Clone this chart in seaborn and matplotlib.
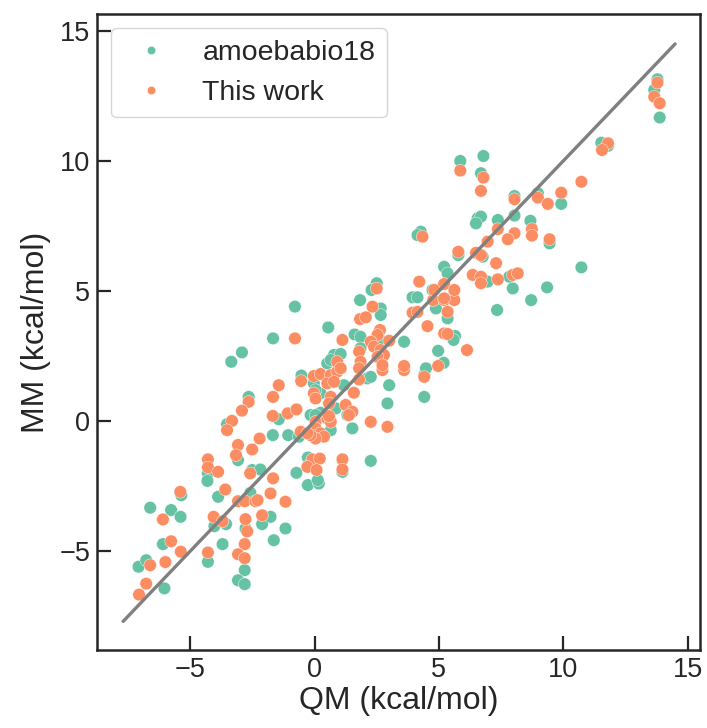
import matplotlib
matplotlib.use("Agg")
import matplotlib.pyplot as plt
import seaborn as sns
import pandas as pd

# ---- data (kcal/mol) ----
amoeba_qm = [-7.08, -6.77, -6.04, -6.10, -6.61, -5.77, -5.39, -5.36, -4.29, -4.31,
             -4.29, -4.03, -3.56, -3.88, -3.70, -3.52, -3.08, -2.51, -2.58, -2.78,
             -2.81, -3.08, -2.81, -1.64, -2.11, -1.77, -1.17, -1.68, -1.06, -1.44,
             -2.65, -2.92, -3.35, -1.67, -0.79, -0.53, -0.63, -2.18, -0.73, -0.27,
             -0.16, -0.27, 0.17, 0.13, 1.12, 2.26, -0.03, 0.71, 1.18, 0.24,
             0.85, 1.32, 2.12, 2.26, 3.00, 2.93, 1.52, -0.16, 0.24, 0.65,
             4.41, 4.41, 0.04, 0.04, 0.55, 2.50, 2.29, 1.83, 2.66, 2.66,
             1.61, 1.85, 2.63, 3.60, 1.85, 0.78, 1.05, 0.51, 0.65, 4.48,
             4.74, 3.94, 4.14, 4.88, 5.35, 5.65, 5.59, 7.34, 8.71, 4.97,
             5.19, 5.86, 6.79, 6.69, 8.04, 8.98, 9.92, 6.56, 6.69, 6.49,
             7.37, 8.04, 8.68, 9.45, 4.27, 4.14, 5.78, 6.76, 5.21, 5.35,
             6.96, 7.83, 7.97, 9.35, 13.79, 13.66, 13.88, 11.53, 11.80, 10.73]
amoeba_mm = [-5.60, -5.35, -6.43, -4.73, -3.33, -3.42, -3.68, -2.85, -2.01, -2.30,
             -5.41, -4.04, -3.96, -2.91, -4.73, -0.12, -1.50, -1.88, -2.76, -4.13,
             -5.73, -6.12, -6.27, -4.58, -3.96, -3.68, -4.13, -0.54, -0.54, 0.07,
             0.93, 2.64, 2.28, 3.18, 4.40, 1.75, -0.60, -1.86, -1.99, -1.40,
             -1.63, -2.46, -2.40, -2.27, -1.95, -1.53, 1.45, 1.64, 1.38, 1.07,
             0.49, 0.23, 1.64, 1.70, 1.38, 0.68, -0.28, 0.23, 0.32, -0.35,
             1.77, 0.93, 1.19, 0.23, 3.60, 5.30, 5.04, 4.65, 4.33, 4.08,
             3.33, 3.24, 3.12, 3.05, 2.80, 2.54, 2.58, 2.22, 2.35, 2.03,
             5.04, 4.76, 4.76, 4.33, 3.95, 3.27, 3.12, 4.27, 4.65, 2.70,
             2.24, 10.00, 10.19, 9.53, 8.65, 8.76, 8.35, 7.80, 7.86, 7.60,
             7.73, 7.90, 7.70, 6.83, 7.28, 7.15, 6.38, 6.32, 5.93, 5.68,
             5.36, 5.55, 5.10, 5.14, 13.14, 12.73, 11.67, 10.70, 10.58, 5.91]

thiswork_qm = [-6.61, -6.77, -7.06, -6.00, -5.77, -5.38, -6.10, -5.40, -4.29, -4.29,
               -4.29, -4.06, -3.70, -3.88, -3.59, -3.32, -3.52, -3.08, -3.16, -2.51,
               -2.59, -3.08, -2.81, -2.38, -2.78, -2.71, -2.81, -3.08, -2.81, -2.29,
               -2.11, -1.77, -1.17, -1.67, -2.21, -1.68, -1.44, -1.67, -2.65, -2.92,
               -0.79, -0.54, -1.08, -0.73, -0.56, -0.09, 0.21, -0.29, 0.08, 1.12,
               1.12, -0.03, 0.24, 0.65, 0.91, 0.51, 0.78, -0.03, 0.04, 0.65,
               0.58, 1.25, 1.52, 1.58, 1.79, 2.26, 2.93, 0.04, 0.04, 0.24,
               0.38, 0.04, -0.16, -0.29, 0.51, 0.65, 2.73, 3.60, 4.41, 1.38,
               0.58, 4.34, 2.50, 2.33, 1.83, 2.06, 2.63, 2.53, 1.12, 2.26,
               2.39, 2.66, 2.79, 2.53, 2.73, 3.00, 1.79, 1.85, 0.91, 1.05,
               1.79, 3.60, 4.21, 3.94, 4.14, 4.77, 5.21, 5.62, 5.35, 4.54,
               5.21, 5.35, 6.13, 4.97, 5.86, 6.79, 6.69, 8.04, 8.98, 9.38,
               9.92, 7.37, 8.74, 8.74, 8.04, 7.77, 9.45, 6.96, 5.78, 6.49,
               6.69, 7.30, 6.36, 6.69, 6.69, 7.37, 7.97, 8.17, 5.21, 4.81,
               5.21, 5.62, 13.79, 13.66, 13.88, 11.80, 11.56, 10.73]
thiswork_mm = [-5.54, -6.25, -6.67, -5.42, -4.62, -5.02, -3.78, -2.72, -1.47, -1.78,
               -5.05, -3.68, -3.85, -1.95, -2.63, 0.01, -0.35, -0.92, -1.31, -1.09,
               -2.01, -3.08, -3.08, -3.08, -3.77, -4.24, -4.73, -5.12, -5.27, -3.04,
               -3.62, -2.78, -3.10, -2.20, -0.67, 0.20, 1.38, 0.93, 0.74, 0.40,
               3.18, 1.54, 0.30, 0.45, -0.41, -1.47, -1.44, -1.76, -1.88, -1.47,
               -1.86, 1.73, 1.81, 1.77, 1.90, 1.45, 1.51, 1.07, 0.87, 0.93,
               0.68, 0.62, 0.36, 1.09, 1.60, -0.03, -0.22, -0.03, -0.28, -0.47,
               -0.60, -0.67, -0.54, -0.47, 0.10, -0.03, 1.96, 1.96, 1.70, 0.23,
               0.19, 7.09, 5.10, 4.40, 3.92, 3.99, 3.50, 3.31, 3.12, 3.05,
               2.86, 2.73, 2.54, 2.47, 2.15, 3.09, 2.67, 2.28, 2.28, 2.03,
               2.03, 2.12, 5.36, 4.17, 4.20, 4.65, 4.65, 4.65, 4.20, 3.65,
               3.37, 3.35, 2.73, 2.12, 9.63, 9.36, 8.85, 8.53, 8.59, 8.35,
               8.78, 7.38, 7.38, 7.13, 7.22, 6.99, 6.99, 6.90, 6.51, 6.47,
               6.38, 6.07, 5.62, 5.55, 5.30, 5.45, 5.62, 5.68, 5.27, 5.04,
               4.72, 5.04, 13.01, 12.47, 12.22, 10.68, 10.42, 9.20]

series_names = ["amoebabio18", "This work"]
ref_line = [-7.7, 14.5]
x_ticks = [-5, 0, 5, 10, 15]
y_ticks = [-5, 0, 5, 10, 15]

df = pd.DataFrame({
    "QM": amoeba_qm + thiswork_qm,
    "MM": amoeba_mm + thiswork_mm,
    "method": [series_names[0]] * len(amoeba_qm) + [series_names[1]] * len(thiswork_qm),
})

sns.set_style("ticks")
plt.rcParams["font.family"] = ["Liberation Sans", "DejaVu Sans"]
plt.rcParams["xtick.direction"] = "in"
plt.rcParams["ytick.direction"] = "in"

fig = plt.figure(figsize=(7.07, 7.28), dpi=100)
ax = fig.add_axes([97 / 707, 78 / 728, 603 / 707, 636 / 728])

palette = sns.color_palette("Set2", 2)
sns.scatterplot(data=df, x="QM", y="MM", hue="method", palette=palette,
                s=82, edgecolor="white", linewidth=0.3, ax=ax, zorder=2)
ax.plot(ref_line, ref_line, color="#808080", lw=2.4, zorder=3)

ax.set_xlim(-8.75, 15.5)
ax.set_ylim(-8.8, 15.65)
ax.set_xticks(x_ticks)
ax.set_yticks(y_ticks)
ax.tick_params(axis="both", labelsize=19.5, length=10, width=1.6,
               colors="#262626", pad=5)
for sp in ax.spines.values():
    sp.set_linewidth(1.8)
    sp.set_color("#262626")

ax.set_xlabel("QM (kcal/mol)", fontsize=23, color="#262626", labelpad=2)
ax.set_ylabel("MM (kcal/mol)", fontsize=23, color="#262626", labelpad=6)

leg = ax.legend(loc="upper left", fontsize=20.5, frameon=True, title=None)
leg.get_frame().set_edgecolor("#cccccc")
leg.get_frame().set_linewidth(1.0)
for h in leg.legend_handles:
    h.set_markersize(6)
    try:
        h.set_markeredgecolor("white")
    except Exception:
        pass

fig.savefig("out.png", dpi=100)
